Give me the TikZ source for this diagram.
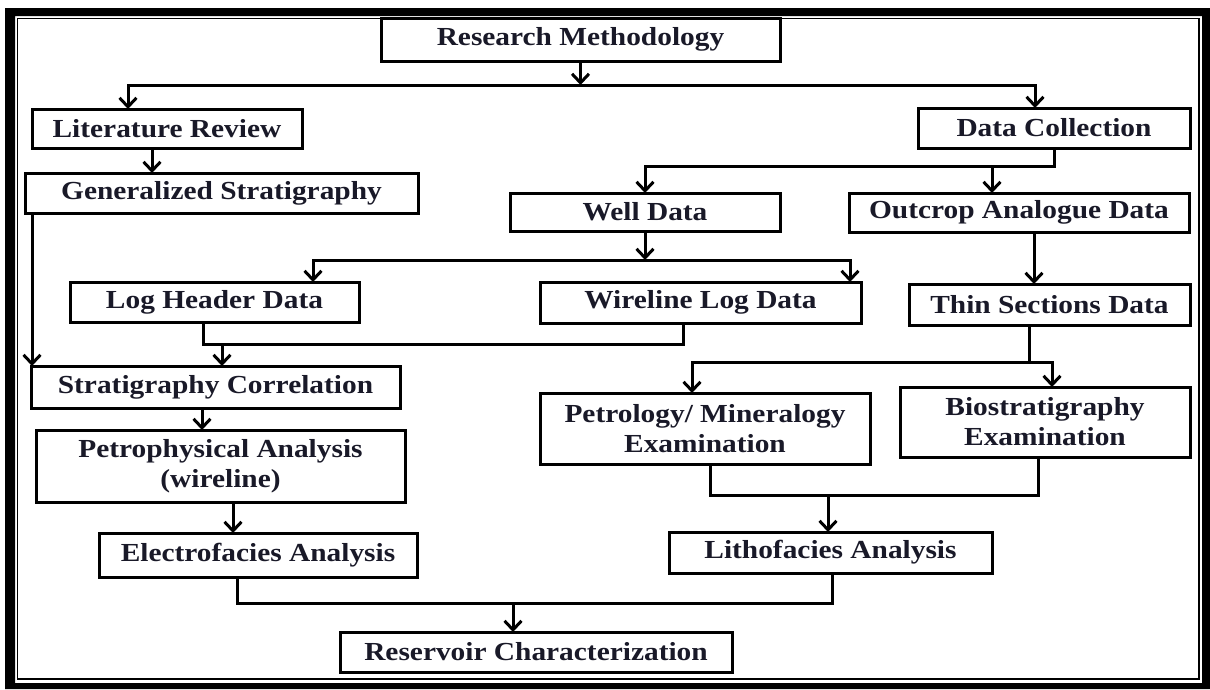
\documentclass[tikz,border=0pt]{standalone}
\usepackage{fontspec}
\setmainfont{Liberation Serif}[FakeStretch=1.13]
\usetikzlibrary{arrows.meta,calc}
\definecolor{txt}{RGB}{25,25,40}
\begin{document}
\begin{tikzpicture}[x=1pt,y=-1pt,
  box/.style={draw, line width=3pt, inner sep=0pt, outer sep=0pt, align=center,
    font=\bfseries\fontsize{26}{30}\selectfont, text=txt},
  conn/.style={line width=3pt},
  tip/.tip={Straight Barb[length=9pt,width=17pt,line width=3pt]},
  arr/.style={conn, -tip},
  arrs/.style={conn, tip-tip},
]
\useasboundingbox (0,0) rectangle (1210,689);
\fill[white] (0,0) rectangle (1210,689);
% frame
\fill[black, even odd rule] (5,8) rectangle (1210,689) (15,16) rectangle (1202,683);
\draw[line width=1.3pt] (17.5,18.5) rectangle (1199,679);

% nodes
\node[box, minimum width=399pt, minimum height=43pt] (rm) at (580.5,39.5) {Research Methodology};
\node[box, minimum width=270pt, minimum height=39pt] (lr) at (167,128.5) {Literature Review};
\node[box, minimum width=393pt, minimum height=40pt] (gs) at (221.5,193) {Generalized Stratigraphy};
\node[box, minimum width=272pt, minimum height=40pt] (dc) at (1054,128) {Data Collection};
\node[box, minimum width=270pt, minimum height=38pt] (wd) at (645,212) {Well Data};
\node[box, minimum width=340pt, minimum height=39pt] (oa) at (1019,212.5) {Outcrop Analogue Data};
\node[box, minimum width=289pt, minimum height=40pt] (lh) at (214.5,302) {Log Header Data};
\node[box, minimum width=321pt, minimum height=41pt] (wl) at (700.5,302.5) {Wireline Log Data};
\node[box, minimum width=281pt, minimum height=41pt] (ts) at (1049.5,304.5) {Thin Sections Data};
\node[box, minimum width=369pt, minimum height=42pt] (sc) at (215.5,387) {Stratigraphy Correlation};
\node[box, minimum width=369pt, minimum height=72pt] (pa) at (220.5,466) {Petrophysical Analysis\\(wireline)};
\node[box, minimum width=330pt, minimum height=71pt] (pm) at (705,428.5) {Petrology/ Mineralogy\\Examination};
\node[box, minimum width=290pt, minimum height=70pt] (be) at (1045,422) {Biostratigraphy\\Examination};
\node[box, minimum width=318pt, minimum height=44pt] (ea) at (258,555) {Electrofacies Analysis};
\node[box, minimum width=323pt, minimum height=41pt] (la) at (830.5,552.5) {Lithofacies Analysis};
\node[box, minimum width=392pt, minimum height=40pt] (rc) at (536,652) {Reservoir Characterization};

% bus points
\coordinate (bus1) at (582,85);
\coordinate (bus2) at ($(dc.south)+(0,18)$);
\coordinate (bus3) at (643,260);
\coordinate (bus4) at (222,344);
\coordinate (bus5) at (513,603);
\coordinate (bus6) at (1029,362);
\coordinate (bus7) at (828,495);

% connectors
\draw[arr] (rm.south) -- (rm.south |- bus1);
\draw[arrs] ([xshift=-39pt]lr.north) |- (bus1) -| ([xshift=-19pt]dc.north);
\draw[arr] ([xshift=-15pt]lr.south) -- ([xshift=-15pt]lr.south |- gs.north);

\draw[arr] (dc.south) -- (bus2) -| (wd.north);
\draw[arr] ([xshift=-27pt]oa.north |- bus2) -- ([xshift=-27pt]oa.north);

\draw[arr] (wd.south) -- (wd.south |- bus3);
\draw[arrs] ([xshift=98.5pt]lh.north) |- (bus3) -| ([xshift=149.5pt]wl.north);

\draw[arr] ([xshift=15pt]oa.south) -- ([xshift=15pt]oa.south |- ts.north);

\draw[conn] ([xshift=-11.5pt]lh.south) |- (bus4) -| ([xshift=-17.5pt]wl.south);
\draw[arr] (bus4) -- (bus4 |- sc.north);

\draw[arr] ([xshift=-189.5pt]gs.south) -- ([xshift=-189.5pt]gs.south |- sc.north);

\draw[arr] ([xshift=-13.5pt]sc.south) -- ([xshift=-13.5pt]sc.south |- pa.north);
\draw[arr] ([xshift=12.5pt]pa.south) -- ([xshift=12.5pt]pa.south |- ea.north);

\draw[conn] ([xshift=-21pt]ea.south) |- (bus5) -| ([xshift=1.5pt]la.south);
\draw[arr] (bus5) -- (bus5 |- rc.north);

\draw[conn] ([xshift=-20.5pt]ts.south) -- (bus6);
\draw[arrs] ([xshift=-13pt]pm.north) |- (bus6) -| ([xshift=7pt]be.north);

\draw[conn] ([xshift=5pt]pm.south) |- (bus7) -| ([xshift=-7pt]be.south);
\draw[arr] (bus7) -- (bus7 |- la.north);
\end{tikzpicture}
\end{document}
